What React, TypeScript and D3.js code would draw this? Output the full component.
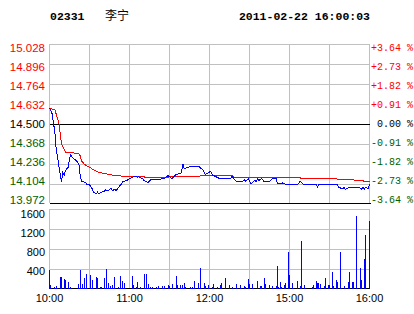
import React from "react";
import * as d3 from "d3";

// ---- data ----
const stockCode = "02331";
const stockName = "李宁";
const timestamp = "2011-02-22 16:00:03";
const prevClose = 14.5;

const priceTicks = ["15.028", "14.896", "14.764", "14.632", "14.500", "14.368", "14.236", "14.104", "13.972"];
const pctTicks = ["+3.64 %", "+2.73 %", "+1.82 %", "+0.91 %", " 0.00 %", "-0.91 %", "-1.82 %", "-2.73 %", "-3.64 %"];
const volTicks = [1600, 1200, 800, 400];
const timeTickMinutes = [0, 60, 120, 180, 240];
const timeTickLabels = ["10:00", "11:00", "12:00", "15:00", "16:00"];
const gridMinutes = [0, 30, 60, 90, 120, 150, 180, 210, 240];

// trading minutes since 10:00 (12:30 == 14:30 == 150)
const priceMinutes = [0, 2, 4, 5, 7, 9, 10, 11, 12, 14, 15, 16, 17, 20, 22, 23, 24, 27, 28, 30, 32, 33, 35, 36, 37, 39, 41, 42, 44, 45, 46, 47, 49, 50, 51, 52, 54, 55, 58, 60, 62, 65, 66, 67, 70, 71, 74, 76, 86, 89, 91, 92, 95, 99, 100, 101, 102, 106, 112, 115, 117, 119, 121, 122, 127, 136, 137, 140, 145, 146, 147, 149, 150, 151, 154, 155, 156, 157, 159, 161, 165, 167, 170, 171, 174, 175, 176, 179, 186, 188, 191, 200, 201, 202, 216, 217, 220, 221, 222, 224, 226, 232, 234, 235, 236, 237, 239, 240];
const priceValues = [14.607, 14.571, 14.449, 14.34, 14.229, 14.12, 14.185, 14.163, 14.196, 14.218, 14.274, 14.3, 14.284, 14.262, 14.241, 14.163, 14.124, 14.119, 14.102, 14.102, 14.076, 14.053, 14.043, 14.053, 14.043, 14.053, 14.058, 14.069, 14.064, 14.069, 14.08, 14.064, 14.071, 14.064, 14.076, 14.086, 14.109, 14.124, 14.13, 14.142, 14.152, 14.157, 14.152, 14.155, 14.142, 14.13, 14.117, 14.135, 14.142, 14.163, 14.148, 14.144, 14.17, 14.181, 14.241, 14.206, 14.212, 14.223, 14.223, 14.2, 14.17, 14.18, 14.192, 14.168, 14.146, 14.146, 14.158, 14.124, 14.124, 14.137, 14.126, 14.142, 14.126, 14.109, 14.13, 14.124, 14.142, 14.13, 14.142, 14.124, 14.124, 14.142, 14.142, 14.109, 14.109, 14.115, 14.109, 14.102, 14.102, 14.124, 14.102, 14.102, 14.086, 14.102, 14.102, 14.086, 14.074, 14.086, 14.071, 14.081, 14.086, 14.086, 14.071, 14.086, 14.071, 14.086, 14.076, 14.105];

const avgMinutes = [0, 4, 5, 7, 8, 9, 10, 12, 16, 22, 23, 24, 26, 28, 31, 33, 36, 38, 42, 48, 52, 60, 71, 72, 88, 90, 112, 114, 137, 138, 170, 171, 188, 189, 215, 216, 228, 229, 235, 236, 240];
const avgValues = [14.607, 14.598, 14.569, 14.513, 14.441, 14.371, 14.352, 14.318, 14.314, 14.309, 14.293, 14.26, 14.239, 14.227, 14.213, 14.2, 14.188, 14.183, 14.175, 14.165, 14.161, 14.157, 14.157, 14.148, 14.148, 14.157, 14.157, 14.163, 14.163, 14.153, 14.153, 14.148, 14.148, 14.144, 14.144, 14.137, 14.137, 14.13, 14.13, 14.124, 14.124];

const volMinutes = [0, 1, 4, 5, 8, 9, 11, 12, 14, 16, 22, 23, 25, 26, 28, 31, 32, 35, 36, 38, 39, 41, 43, 44, 46, 47, 49, 52, 53, 55, 56, 62, 63, 65, 66, 68, 71, 73, 74, 76, 77, 80, 82, 85, 86, 89, 90, 92, 95, 96, 98, 100, 101, 102, 106, 107, 109, 112, 113, 116, 117, 119, 122, 123, 126, 128, 129, 132, 135, 137, 140, 143, 146, 147, 149, 150, 152, 156, 158, 159, 161, 162, 165, 167, 170, 171, 172, 173, 174, 176, 177, 179, 180, 182, 186, 188, 189, 191, 197, 198, 200, 201, 202, 203, 206, 207, 209, 210, 212, 213, 215, 216, 218, 221, 224, 225, 227, 228, 230, 233, 234, 236, 237, 240];
const volValues = [390, 90, 50, 70, 250, 250, 200, 180, 150, 50, 100, 390, 100, 220, 300, 290, 190, 250, 220, 50, 50, 220, 400, 130, 60, 90, 250, 50, 270, 170, 130, 270, 90, 50, 150, 50, 310, 310, 100, 50, 50, 50, 70, 70, 70, 90, 60, 100, 270, 90, 90, 90, 130, 50, 50, 50, 170, 130, 430, 130, 70, 90, 50, 100, 50, 90, 130, 230, 90, 50, 100, 90, 60, 50, 200, 100, 100, 170, 70, 70, 230, 100, 90, 70, 70, 470, 50, 150, 50, 90, 130, 750, 290, 130, 170, 70, 970, 90, 50, 90, 170, 130, 130, 100, 70, 230, 90, 90, 350, 70, 190, 150, 750, 70, 150, 350, 150, 150, 1470, 430, 190, 610, 1090, 1370];

// ---- layout ----
const W = 414;
const H = 314;
const RED = "#ff0000";
const GREEN = "#006000";
const BLUE = "#0000ff";
const GRID = "#c0c0c0";

export default function App() {
  const x = d3.scaleLinear().domain([0, 240]).range([49, 369]);
  const yP = d3.scaleLinear().domain([13.972, 15.028]).range([204, 44]);
  const yV = d3.scaleLinear().domain([0, 1600]).range([289, 209]);

  const priceData: [number, number][] = priceMinutes.map((m, i) => [m, priceValues[i]]);
  const avgData: [number, number][] = avgMinutes.map((m, i) => [m, avgValues[i]]);
  const line = d3
    .line<[number, number]>()
    .x((d) => x(d[0]) + 0.5)
    .y((d) => yP(d[1]) + 0.5);

  const priceTickVals = priceTicks.map((t) => +t);
  const colorFor = (v: number) => (Math.abs(v - prevClose) < 1e-6 ? "#000" : v > prevClose ? RED : GREEN);

  const xL = x(0) + 0.5;
  const xR = x(240) + 0.5;

  return (
    <svg
      width={W}
      height={H}
      style={{ position: "absolute", left: 0, top: 0, background: "#fff" }}
      xmlns="http://www.w3.org/2000/svg"
    >
      <rect x={0} y={0} width={W} height={H} fill="#fff" />
      {/* header */}
      <text x={50} y={20} fontFamily="Liberation Mono, DejaVu Sans Mono, monospace" fontWeight="bold" fontSize={11.5} fill="#000">
        {stockCode}
      </text>
      <text x={105} y={20} fontFamily="Noto Sans CJK SC, sans-serif" fontSize={12} fill="#000">
        {stockName}
      </text>
      <text x={370} y={20} textAnchor="end" fontFamily="Liberation Mono, DejaVu Sans Mono, monospace" fontWeight="bold" fontSize={11.5} fill="#000">
        {timestamp}
      </text>

      {/* price grid */}
      <g shapeRendering="crispEdges">
        {priceTickVals.map((v, i) => {
          const y = Math.round(yP(v)) - (i === 8 ? 0.5 : -0.5);
          const black = i === 4 || i === 8;
          return <line key={"ph" + i} x1={xL} x2={xR + (i === 8 ? 1 : 0)} y1={y} y2={y} stroke={black ? "#000" : GRID} strokeWidth={1} />;
        })}
        {gridMinutes.map((m, i) => (
          <line key={"pv" + i} x1={x(m) + 0.5} x2={x(m) + 0.5} y1={yP(15.028)} y2={yP(13.972) - 1} stroke={GRID} strokeWidth={1} />
        ))}
        <line x1={xL} x2={xR} y1={Math.round(yP(prevClose)) + 0.5} y2={Math.round(yP(prevClose)) + 0.5} stroke="#000" />
      </g>

      {/* price lines */}
      <path d={line(avgData) || ""} fill="none" stroke={RED} strokeWidth={1} shapeRendering="crispEdges" />
      <path d={line(priceData) || ""} fill="none" stroke={BLUE} strokeWidth={1} shapeRendering="crispEdges" />

      {/* left price labels */}
      {priceTicks.map((t, i) => (
        <text
          key={"pl" + i}
          x={45}
          y={yP(priceTickVals[i]) + 4 - i}
          textAnchor="end"
          dominantBaseline="central"
          fontFamily="Liberation Sans, Arial, sans-serif"
          fontSize={11.5}
          fill={colorFor(priceTickVals[i])}
        >
          {t}
        </text>
      ))}
      {/* right pct labels */}
      {pctTicks.map((t, i) => (
        <text
          key={"rl" + i}
          x={371}
          y={yP(priceTickVals[i]) + 4 - i}
          dominantBaseline="central"
          fontFamily="Liberation Mono, DejaVu Sans Mono, monospace"
          fontSize={10}
          fill={colorFor(priceTickVals[i])}
          style={{ whiteSpace: "pre" }}
        >
          {t}
        </text>
      ))}

      {/* volume grid */}
      <g shapeRendering="crispEdges">
        {volTicks.map((v, i) => (
          <line key={"vh" + i} x1={xL} x2={xR} y1={yV(v) + 0.5} y2={yV(v) + 0.5} stroke={GRID} />
        ))}
        {gridMinutes.map((m, i) => (
          <line key={"vv" + i} x1={x(m) + 0.5} x2={x(m) + 0.5} y1={yV(1600)} y2={yV(0)} stroke={GRID} />
        ))}
        <line x1={xL} x2={xR} y1={yV(0) - 0.5} y2={yV(0) - 0.5} stroke="#000" />
        {volMinutes.map((m, i) => (
          <rect
            key={"vb" + i}
            x={Math.round(x(m))}
            y={yV(volValues[i])}
            width={1}
            height={yV(0) - yV(volValues[i])}
            fill={BLUE}
          />
        ))}
      </g>

      {/* volume labels */}
      {volTicks.map((v, i) => (
        <text
          key={"vl" + i}
          x={45}
          y={yV(v) + 4.5 - 0.8 * i}
          textAnchor="end"
          dominantBaseline="central"
          fontFamily="Liberation Sans, Arial, sans-serif"
          fontSize={11}
          fill="#000"
        >
          {v}
        </text>
      ))}

      {/* time labels */}
      {timeTickMinutes.map((m, i) => (
        <text
          key={"tl" + i}
          x={x(m) + 0.5}
          y={298}
          textAnchor="middle"
          dominantBaseline="central"
          fontFamily="Liberation Sans, Arial, sans-serif"
          fontSize={11}
          fill="#000"
        >
          {timeTickLabels[i]}
        </text>
      ))}
    </svg>
  );
}
